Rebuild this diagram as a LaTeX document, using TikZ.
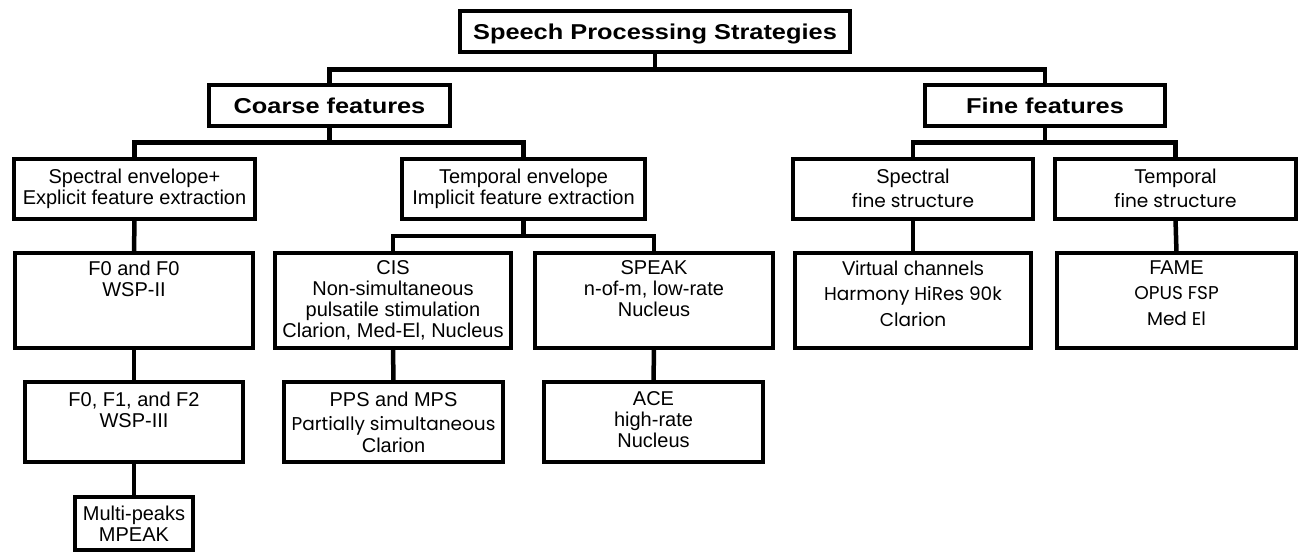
\documentclass[tikz,border=0pt]{standalone}
\usepackage{fontspec}
\setmainfont{Liberation Sans}
\newfontface\headfont{Liberation Sans Bold}[FakeStretch=1.18]
\newfontfamily\handfont{Poppins}
\newcommand\hand[1]{{\handfont\fontsize{18.5}{21}\selectfont #1}}
\begin{document}
\begin{tikzpicture}[x=1pt,y=-1pt,
  box/.style={draw, line width=4pt, inner sep=0pt, outer sep=0pt, fill=white},
  head/.style={box, font=\headfont\fontsize{21.5}{24}\selectfont, text depth=0pt},
  link/.style={line width=4.5pt},
  lbl/.style={anchor=north, align=center, inner sep=0pt, outer sep=0pt,
    font=\fontsize{20}{21}\selectfont}]
\useasboundingbox[fill=white] (0,0) rectangle (1303,553);

% top levels
\node[head, minimum width=390, minimum height=41] (root) at (655,31.5) {Speech Processing Strategies};
\node[head, minimum width=241, minimum height=41] (coarse) at (329.5,105.5) {Coarse features};
\node[head, minimum width=240, minimum height=41] (fine) at (1045,105.5) {Fine features};

% second level
\node[box, minimum width=241, minimum height=60,
  label={[lbl, name=specenv-t, yshift=-10]north:{Spectral envelope+\\Explicit feature extraction}}]
  (specenv) at (134.5,189) {};
\node[box, minimum width=243, minimum height=60,
  label={[lbl, name=tempenv-t, yshift=-10]north:{Temporal envelope\\Implicit feature extraction}}]
  (tempenv) at (523.5,189) {};
\node[box, minimum width=240, minimum height=60,
  label={[lbl, name=specfine-t, yshift=-10]north:{Spectral\\[3pt]\hand{fine structure}}}]
  (specfine) at (913,189) {};
\node[box, minimum width=241, minimum height=60,
  label={[lbl, name=tempfine-t, yshift=-10]north:{Temporal\\[3pt]\hand{fine structure}}}]
  (tempfine) at (1175.5,189) {};

% third level
\node[box, minimum width=238, minimum height=95,
  label={[lbl, name=f0-t, yshift=-8]north:{F0 and F0\\WSP-II}}]
  (f0) at (134,300.5) {};
\node[box, minimum width=236, minimum height=95,
  label={[lbl, name=cis-t, yshift=-8]north:{CIS\\Non-simultaneous\\pulsatile stimulation\\Clarion, Med-El, Nucleus}}]
  (cis) at (393,300.5) {};
\node[box, minimum width=238, minimum height=95,
  label={[lbl, name=speak-t, yshift=-8]north:{SPEAK\\n-of-m, low-rate\\Nucleus}}]
  (speak) at (654,300.5) {};
\node[box, minimum width=236, minimum height=95,
  label={[lbl, name=virt-t, yshift=-8]north:{Virtual channels\\[4pt]\hand{Harmony HiRes 90k}\\[5pt]\hand{Clarion}}}]
  (virt) at (913,300.5) {};
\node[box, minimum width=239, minimum height=95,
  label={[lbl, name=fame-t, yshift=-8]north:{FAME\\[4pt]\hand{OPUS FSP}\\[5pt]\hand{Med El}}}]
  (fame) at (1176.5,300.5) {};

% fourth level
\node[box, minimum width=218, minimum height=80,
  label={[lbl, name=f012-t, yshift=-10]north:{F0, F1, and F2\\WSP-III}}]
  (f012) at (134,422) {};
\node[box, minimum width=219, minimum height=80,
  label={[lbl, name=pps-t, yshift=-10]north:{PPS and MPS\\[3pt]\hand{Partially simultaneous}\\[1pt]Clarion}}]
  (pps) at (393.5,422) {};
\node[box, minimum width=219, minimum height=80,
  label={[lbl, name=ace-t, yshift=-10]north:{ACE\\high-rate\\Nucleus}}]
  (ace) at (653.5,422) {};

% fifth level
\node[box, minimum width=118, minimum height=53,
  label={[lbl, name=mpeak-t, yshift=-9]north:{Multi-peaks\\MPEAK}}]
  (mpeak) at (134,523.5) {};

% connectors
\draw[link] (root.south) -- ++(0,17.5) -| (coarse.north);
\draw[link] (root.south) -- ++(0,17.5) -| (fine.north);
\draw[link] (coarse.south) -- ++(0,16.5) -| (specenv.north);
\draw[link] (coarse.south) -- ++(0,16.5) -| (tempenv.north);
\draw[link] (fine.south) -- ++(0,16.5) -| (specfine.north);
\draw[link] (fine.south) -- ++(0,16.5) -| (tempfine.north);
\draw[link] (tempenv.south) -- ++(0,17) -| (cis.north);
\draw[link] (tempenv.south) -- ++(0,17) -| (speak.north);
\draw[link] (specenv.south) -- (f0.north);
\draw[link] (specfine.south) -- (virt.north);
\draw[link] (tempfine.south) -- (fame.north);
\draw[link] (f0.south) -- (f012.north);
\draw[link] (cis.south) -- (pps.north);
\draw[link] (speak.south) -- (ace.north);
\draw[link] (f012.south) -- (mpeak.north);
\end{tikzpicture}
\end{document}
